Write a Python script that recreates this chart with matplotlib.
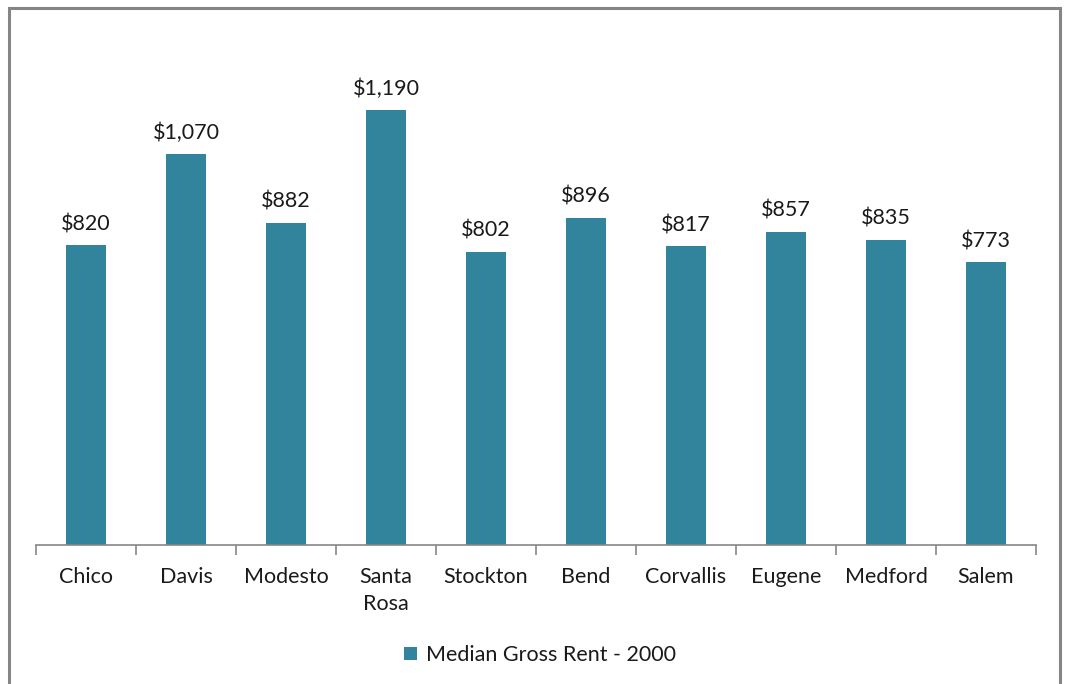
import matplotlib.pyplot as plt
from matplotlib.patches import Rectangle, Patch
import numpy as np

plt.rcParams['font.family'] = ['Lato', 'DejaVu Sans']

cities = ['Chico', 'Davis', 'Modesto', 'Santa\nRosa', 'Stockton', 'Bend',
          'Corvallis', 'Eugene', 'Medford', 'Salem']
rent_2000 = [820, 1070, 882, 1190, 802, 896, 817, 857, 835, 773]
series_name = 'Median Gross Rent - 2000'
bar_color = '#31849B'

W, H = 1065, 684
fig = plt.figure(figsize=(W / 100, H / 100), dpi=100)

# outer chart frame
fig.patches.append(Rectangle((9 / W, -0.05), 1051 / W, 1.05 - 8 / H,
                             transform=fig.transFigure, fill=False,
                             edgecolor='#858585', linewidth=2.2))

ax = fig.add_axes([36 / W, 1 - 545 / H, 1000 / W, 512 / H])
x = np.arange(len(cities))
bars = ax.bar(x, rent_2000, width=0.4, color=bar_color)

ax.set_xlim(-0.5, len(cities) - 0.5)
ax.set_ylim(0, 512 / 0.3655)

for rect, v in zip(bars, rent_2000):
    ax.annotate(f'${v:,}', (rect.get_x() + rect.get_width() / 2, v),
                xytext=(0, 8), textcoords='offset points',
                ha='center', va='bottom', fontsize=15.5, color='#1a1a1a')

for s in ['top', 'right', 'left']:
    ax.spines[s].set_visible(False)
ax.spines['bottom'].set_color('#868686')
ax.spines['bottom'].set_linewidth(1.2)
ax.set_yticks([])

# boundary ticks between categories, labels centred under each bar
ax.set_xticks(np.arange(-0.5, len(cities), 1.0))
ax.set_xticklabels([])
ax.tick_params(axis='x', which='major', length=7, width=1.2, color='#868686')
ax.set_xticks(x, minor=True)
ax.set_xticklabels(cities, minor=True, fontsize=15.5, color='#1a1a1a',
                   linespacing=1.45, va='top')
ax.tick_params(axis='x', which='minor', length=0, pad=16)

fig.legend(handles=[Patch(facecolor=bar_color, label=series_name)],
           loc='center', bbox_to_anchor=(540 / W, 1 - 655 / H),
           frameon=False, fontsize=15.5, handlelength=0.6, handleheight=0.6,
           handletextpad=0.4, labelcolor='#1a1a1a')

fig.savefig('out.png', dpi=100)
